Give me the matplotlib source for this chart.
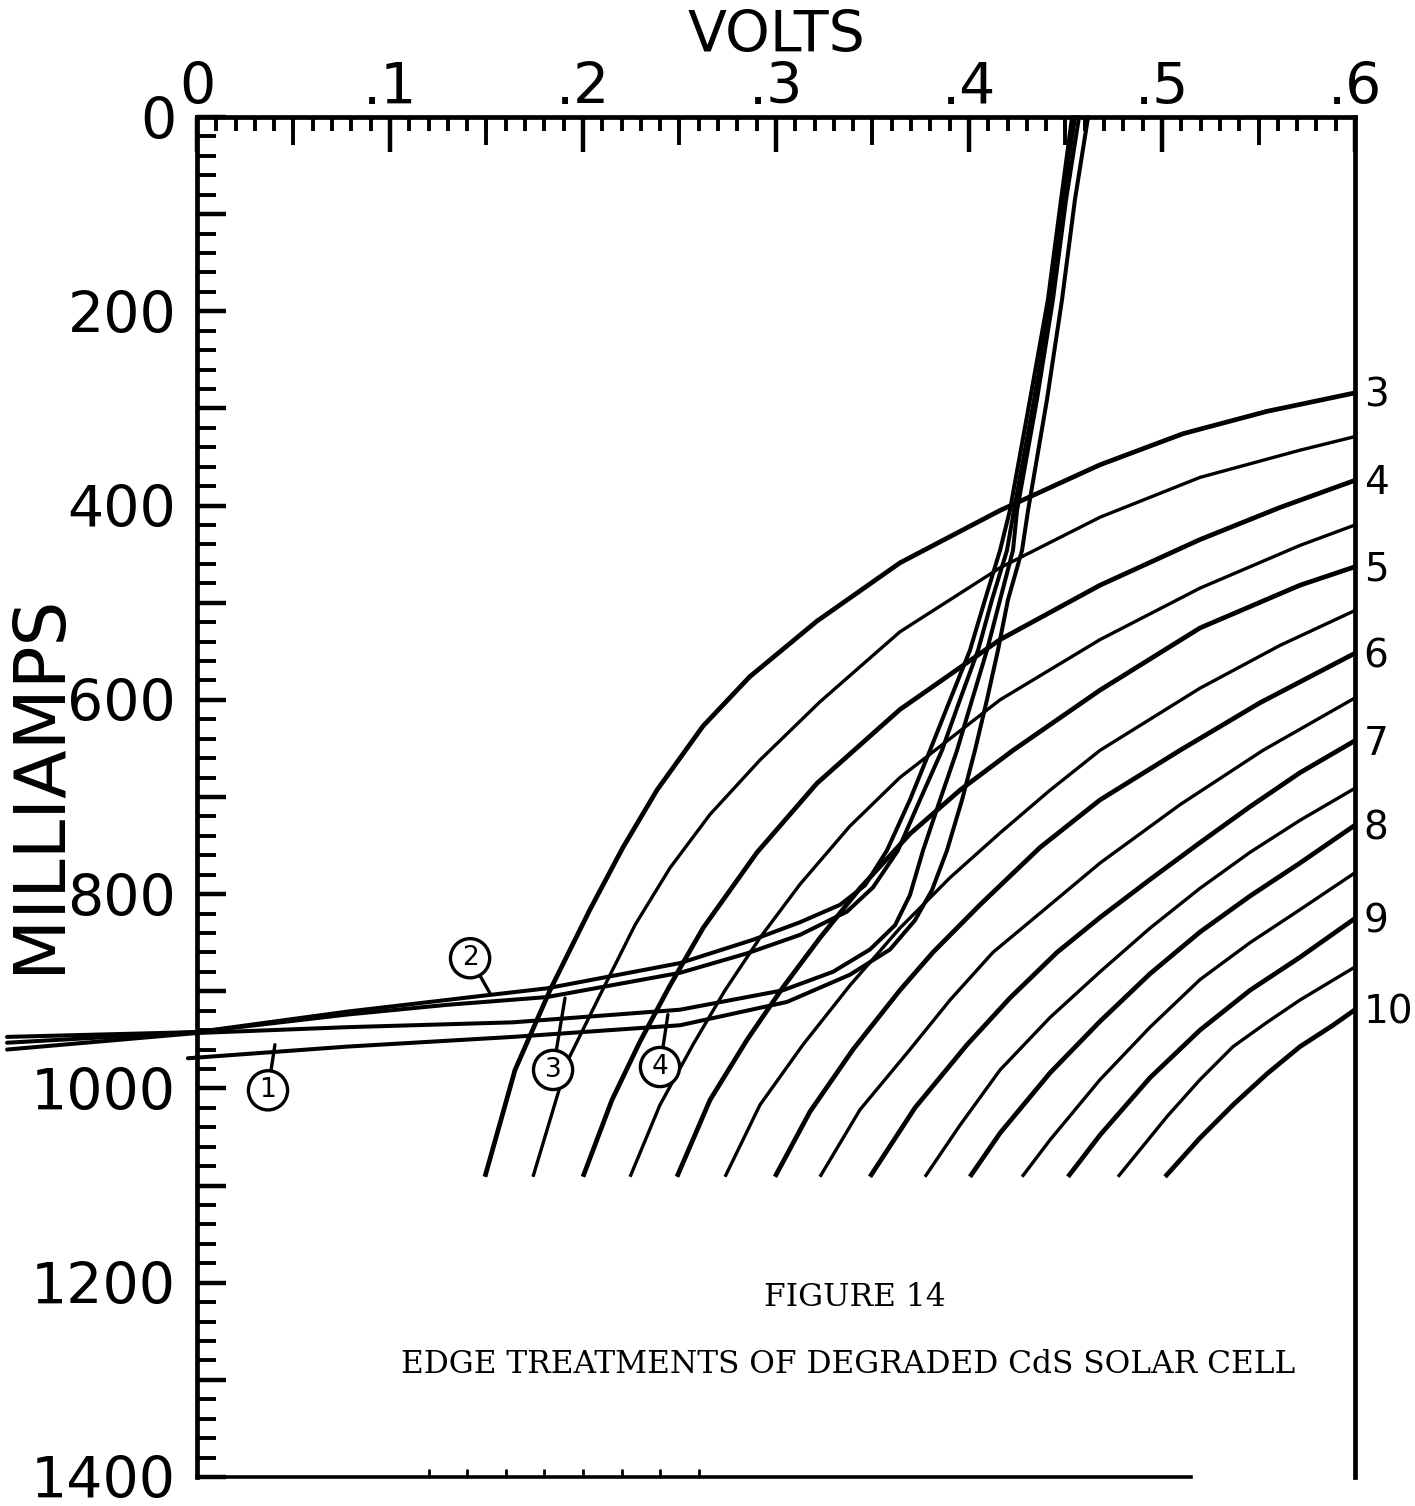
import matplotlib
matplotlib.use("Agg")
import matplotlib.pyplot as plt
from matplotlib.ticker import MultipleLocator, FixedLocator, FixedFormatter

# ---- cell characteristics (volts, milliamps) ----
cell_v = {
    "1": [-0.0047, 0.0777, 0.1637, 0.2503, 0.3057, 0.3383, 0.3591, 0.3720, 0.3808, 0.3886,
          0.3964, 0.4031, 0.4093, 0.4150, 0.4202, 0.4275, 0.4306, 0.4404, 0.4482, 0.4549, 0.4617],
    "2": [-0.0984, 0.0, 0.0777, 0.1508, 0.1813, 0.2503, 0.2881, 0.3124, 0.3332, 0.3461, 0.3575,
          0.3694, 0.3798, 0.3902, 0.4005, 0.4083, 0.4161, 0.4212, 0.4316, 0.4409, 0.4477, 0.4534],
    "3": [-0.0984, 0.0, 0.0777, 0.1295, 0.1813, 0.2503, 0.2850, 0.3124, 0.3368, 0.3503, 0.3632,
          0.3746, 0.3860, 0.3953, 0.4047, 0.4119, 0.4197, 0.4233, 0.4337, 0.4425, 0.4487, 0.4549],
    "4": [-0.0984, 0.0, 0.0777, 0.1637, 0.2503, 0.3036, 0.3295, 0.3487, 0.3617, 0.3694, 0.3762,
          0.3850, 0.3938, 0.4016, 0.4093, 0.4161, 0.4228, 0.4249, 0.4352, 0.4435, 0.4503, 0.4570],
}
cell_ma = {
    "1": [969, 957, 947, 935, 911, 883, 857, 827, 796, 755, 703, 652, 600, 549, 497, 446, 405,
          291, 188, 85, 0],
    "2": [947, 942, 921, 904, 897, 871, 847, 829, 811, 791, 755, 703, 652, 600, 549, 497, 446,
          405, 291, 188, 85, 0],
    "3": [953, 942, 924, 914, 906, 881, 861, 842, 818, 793, 755, 703, 652, 600, 549, 497, 446,
          405, 291, 188, 85, 0],
    "4": [960, 943, 937, 932, 919, 899, 880, 857, 832, 801, 755, 703, 652, 600, 549, 497, 446,
          405, 291, 188, 85, 0],
}

# ---- load curves, numbered 3..10 at the right edge with an unnumbered one between ----
load_v = [
    [0.1492, 0.1648, 0.1829, 0.2036, 0.2207, 0.2383, 0.2622, 0.2865, 0.3212, 0.3642, 0.4161,
     0.4679, 0.5109, 0.5544, 0.6],
    [0.1741, 0.1922, 0.2088, 0.2269, 0.2451, 0.2658, 0.2917, 0.3228, 0.3642, 0.4161, 0.4679,
     0.5197, 0.5715, 0.6],
    [0.2000, 0.2150, 0.2295, 0.2451, 0.2622, 0.2902, 0.3212, 0.3642, 0.4161, 0.4679, 0.5197,
     0.5611, 0.6],
    [0.2244, 0.2399, 0.2570, 0.2736, 0.2917, 0.3124, 0.3383, 0.3642, 0.4161, 0.4679, 0.5197,
     0.5715, 0.6],
    [0.2487, 0.2658, 0.2850, 0.3036, 0.3228, 0.3435, 0.3694, 0.3953, 0.4228, 0.4679, 0.5197,
     0.5715, 0.6],
    [0.2736, 0.2917, 0.3140, 0.3383, 0.3642, 0.3902, 0.4161, 0.4420, 0.4679, 0.5197, 0.5611, 0.6],
    [0.2995, 0.3176, 0.3399, 0.3642, 0.3813, 0.4057, 0.4368, 0.4679, 0.5093, 0.5508, 0.6],
    [0.3228, 0.3435, 0.3694, 0.3902, 0.4124, 0.4420, 0.4679, 0.5093, 0.5523, 0.6],
    [0.3487, 0.3720, 0.3990, 0.4212, 0.4456, 0.4679, 0.4938, 0.5197, 0.5456, 0.5715, 0.6],
    [0.3772, 0.3953, 0.4161, 0.4420, 0.4679, 0.4938, 0.5197, 0.5456, 0.5715, 0.6],
    [0.4005, 0.4161, 0.4420, 0.4679, 0.4938, 0.5197, 0.5456, 0.5715, 0.6],
    [0.4275, 0.4420, 0.4679, 0.4938, 0.5197, 0.5456, 0.5715, 0.6],
    [0.4513, 0.4679, 0.4938, 0.5197, 0.5456, 0.5715, 0.6],
    [0.4772, 0.5026, 0.5197, 0.5368, 0.5544, 0.5715, 0.6],
    [0.5016, 0.5197, 0.5368, 0.5544, 0.5715, 0.5886, 0.6],
]
load_ma = [
    [1091, 981, 899, 816, 752, 693, 627, 576, 519, 459, 405, 358, 326, 303, 284],
    [1091, 971, 904, 832, 773, 718, 662, 602, 530, 464, 412, 371, 343, 329],
    [1091, 1012, 952, 894, 835, 757, 686, 610, 538, 482, 435, 402, 374],
    [1091, 1017, 955, 899, 845, 790, 730, 680, 600, 538, 485, 441, 420],
    [1091, 1012, 950, 896, 845, 794, 738, 693, 652, 590, 526, 482, 463],
    [1091, 1017, 955, 894, 835, 783, 737, 693, 652, 588, 544, 508],
    [1091, 1024, 960, 899, 860, 811, 752, 703, 652, 603, 552],
    [1091, 1022, 960, 909, 860, 811, 768, 708, 652, 598],
    [1091, 1020, 955, 907, 860, 824, 785, 747, 710, 675, 642],
    [1091, 1038, 981, 927, 880, 835, 794, 757, 724, 691],
    [1091, 1046, 984, 931, 882, 839, 802, 768, 729],
    [1091, 1053, 991, 937, 888, 850, 816, 778],
    [1091, 1048, 989, 940, 899, 865, 825],
    [1091, 1029, 991, 957, 932, 909, 875],
    [1091, 1051, 1017, 985, 957, 935, 919],
]
load_labels = ["3", "", "4", "", "5", "", "6", "", "7", "", "8", "", "9", "", "10"]

# circled tags: (tag, point on the curve, centre of the circle)
tag_points = [("1", (0.0404, 955), (0.0368, 1002)),
              ("2", (0.1518, 902), (0.1415, 866)),
              ("3", (0.1907, 907), (0.1845, 981)),
              ("4", (0.2440, 924), (0.2399, 978))]

x_ticks = [0, 0.1, 0.2, 0.3, 0.4, 0.5, 0.6]
x_labels = ["0", ".1", ".2", ".3", ".4", ".5", ".6"]
y_ticks = list(range(0, 1401, 100))
y_labels = ["0", "", "200", "", "400", "", "600", "", "800", "", "1000", "", "1200", "",
            "1400"]

letter = "DejaVu Sans"

fig = plt.figure(figsize=(14.15, 15.06), dpi=100)
ax = fig.add_axes([0.1392, 0.0193, 0.8184, 0.9030])
ax.set_xlim(0, 0.6)
ax.set_ylim(1400, 0)

for name in cell_v:
    ax.plot(cell_v[name], cell_ma[name], color="black", lw=2.9,
            solid_capstyle="round", solid_joinstyle="round", clip_on=False)

for v, ma, lab in zip(load_v, load_ma, load_labels):
    ax.plot(v, ma, color="black", lw=3.4 if lab else 2.4,
            solid_capstyle="butt", solid_joinstyle="round")
    if lab:
        ax.text(0.6045, ma[-1] + 3, lab, fontsize=28, family=letter,
                ha="left", va="center", clip_on=False)

for tag, pt, ctr in tag_points:
    ax.annotate(tag, xy=pt, xytext=ctr, fontsize=19, family=letter,
                ha="center", va="center",
                bbox=dict(boxstyle="circle,pad=0.25", fc="white", ec="black", lw=2.4),
                arrowprops=dict(arrowstyle="-", lw=2.4, color="black",
                                shrinkA=0, shrinkB=0))

# frame: heavy left/top/right lines, short bottom line
for side in ("left", "top", "right"):
    ax.spines[side].set_linewidth(3.4)
ax.spines["bottom"].set_linewidth(2.6)
ax.spines["bottom"].set_bounds(0, 0.515)

ax.xaxis.tick_top()
ax.xaxis.set_major_locator(FixedLocator(x_ticks))
ax.xaxis.set_major_formatter(FixedFormatter(x_labels))
ax.xaxis.set_minor_locator(MultipleLocator(0.01))
ax.tick_params(axis="x", which="major", direction="in", length=25, width=3.2,
               pad=1, labelsize=41)
ax.tick_params(axis="x", which="minor", direction="in", length=10, width=2.8)

halves = ax.secondary_xaxis("top")
halves.set_xticks([0.05, 0.15, 0.25, 0.35, 0.45, 0.55])
halves.set_xticklabels([])
halves.tick_params(direction="in", length=20, width=2.8)
halves.spines["top"].set_visible(False)

foot = ax.secondary_xaxis("bottom")
foot.set_xticks([0.12, 0.14, 0.16, 0.18, 0.20, 0.22, 0.24, 0.26])
foot.set_xticklabels([])
foot.tick_params(direction="in", length=6, width=2)
foot.spines["bottom"].set_visible(False)

ax.yaxis.set_major_locator(FixedLocator(y_ticks))
ax.yaxis.set_major_formatter(FixedFormatter(y_labels))
ax.yaxis.set_minor_locator(MultipleLocator(20))
ax.tick_params(axis="y", which="major", direction="in", length=21, width=3.2,
               pad=15, labelsize=41)
ax.tick_params(axis="y", which="minor", direction="in", length=14, width=2.8)

for t in ax.get_xticklabels() + ax.get_yticklabels():
    t.set_family(letter)

ax.set_xlabel("VOLTS", fontsize=41, family=letter, labelpad=6)
ax.xaxis.set_label_position("top")
ax.set_ylabel("MILLIAMPS", fontsize=51, family=letter)
ax.yaxis.set_label_coords(-0.106, 0.51)

ax.text(0.568, 0.1316, "FIGURE 14", transform=ax.transAxes, fontsize=22.5,
        family="DejaVu Serif", ha="center", va="center")
ax.text(0.562, 0.0824, "EDGE TREATMENTS OF DEGRADED CdS SOLAR CELL",
        transform=ax.transAxes, fontsize=22.5, family="DejaVu Serif",
        ha="center", va="center")

fig.savefig("out.png", dpi=100, facecolor="white")
